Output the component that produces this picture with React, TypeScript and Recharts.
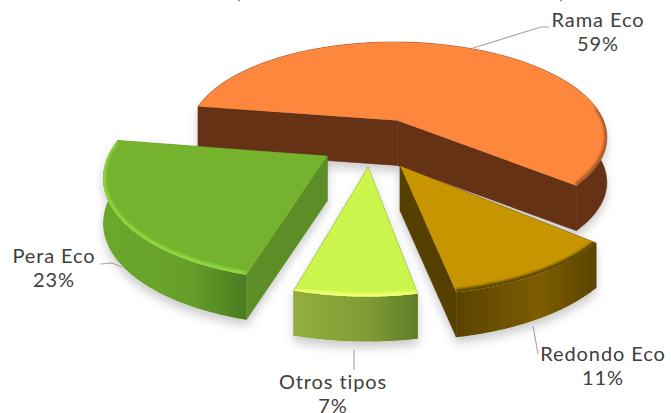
import { PieChart, Pie } from 'recharts'

const names = ['Rama Eco', 'Redondo Eco', 'Otros tipos', 'Pera Eco']
const values = [58.6, 10.9, 7.4, 23.1]

// look of each slice
const topColors = ['#FD873C', '#C79500', '#CBF54E', '#74B32F']
const edgeColors = ['#A85A2A', '#5F4700', '#F0FF70', '#8FD63F']
const cutColors = ['#663315', '#574000', '#6F8F2C', '#5B8D26']
const wallFrom = ['#663315', '#5A4300', '#93AE3C', '#6BA82C']
const wallMid = ['#663315', '#7D5D00', '#7F9C35', '#659F2B']
const wallTo = ['#663315', '#5A4300', '#5F7E28', '#4A7C1F']

// explosion of each slice on the pie plane, in radii
const offsetU = [0.118, 0.122, -0.022, -0.209]
const offsetV = [0.283, -0.18, -0.19, -0.0855]

// label anchors and leader lines
const labelX = [598, 603, 333, 54]
const labelY = [27, 361, 389, 263]
const leaders = [
  '473,48 541,27 549,27',
  '533,326 538,354',
  '354,350 354,370',
  '100,264 112,263 122,267',
]

const CX = 373
const CY = 147.4
const RADIUS = 216
const RAD = 100 / RADIUS // vertical squash
const PERSP = 0.17
const DEPTH = 45

const rows = names.map((name, i) => ({ name, value: values[i] }))

function project(u: number, v: number, R: number) {
  const s = 1 / (1 + PERSP * v)
  return [CX + R * u * s, CY - R * RAD * v * s]
}

function pts(list: number[][]) {
  return list.map((p) => `${p[0].toFixed(1)},${p[1].toFixed(1)}`).join(' L')
}

function Slice3D(props: any) {
  const i = names.indexOf(props.name)
  const R = props.outerRadius
  const ou = offsetU[i]
  const ov = offsetV[i]
  const a0 = 90 - props.startAngle
  const a1 = 90 - props.endAngle
  const arc: number[][] = []
  const rim: number[][] = []
  const steps = 80
  for (let k = 0; k <= steps; k++) {
    const t = ((a0 + ((a1 - a0) * k) / steps) * Math.PI) / 180
    const p = project(ou + Math.sin(t), ov + Math.cos(t), R)
    arc.push(p)
    // the bevel only catches the eye on the near half, and past the first half of the sweep for the big slice
    const nearSide = i === 0 ? Math.cos(t) < 0.15 && k > steps / 2 : Math.cos(t) < 0.15
    if (nearSide) rim.push([p[0], p[1] - 1])
  }
  const apex = project(ou, ov, R)
  const low = (p: number[]) => [p[0], p[1] + DEPTH]
  const top = `M${pts([apex, ...arc])} Z`
  const wall = `M${pts([...arc, ...arc.map(low).reverse()])} Z`
  const cutA = `M${pts([apex, arc[0], low(arc[0]), low(apex)])} Z`
  const cutB = `M${pts([apex, arc[steps], low(arc[steps]), low(apex)])} Z`
  return (
    <g>
      <defs>
        <linearGradient id={`wall${i}`} x1="0" y1="0" x2="1" y2="0">
          <stop offset="0" stopColor={wallFrom[i]} />
          <stop offset="0.6" stopColor={wallMid[i]} />
          <stop offset="1" stopColor={wallTo[i]} />
        </linearGradient>
        <filter id={`shadow${i}`} x="-20%" y="-20%" width="140%" height="150%">
          <feDropShadow dx="0" dy="6" stdDeviation="5" floodColor="#000" floodOpacity="0.2" />
        </filter>
        <filter id={`soft${i}`} x="-10%" y="-10%" width="120%" height="130%">
          <feGaussianBlur stdDeviation="1.2" />
        </filter>
        <clipPath id={`clip${i}`}>
          <path d={top} />
        </clipPath>
      </defs>
      <g filter={`url(#shadow${i})`}>
        <path d={cutA} fill={cutColors[i]} stroke={cutColors[i]} strokeWidth={0.6} />
        <path d={cutB} fill={cutColors[i]} stroke={cutColors[i]} strokeWidth={0.6} />
        <path d={wall} fill={`url(#wall${i})`} stroke={i === 0 ? cutColors[0] : 'none'} strokeWidth={0.6} />
        <path d={top} fill={topColors[i]} />
      </g>
      <g clipPath={`url(#clip${i})`}>
        <path d={`M${pts(rim)}`} fill="none" stroke={edgeColors[i]} strokeWidth={5} filter={`url(#soft${i})`} />
      </g>
    </g>
  )
}

function SliceLabel(props: any) {
  const i = names.indexOf(props.name)
  return (
    <g>
      <polyline points={leaders[i]} fill="none" stroke="#A6A6A6" strokeWidth={1.2} />
      <text x={labelX[i]} y={labelY[i]} textAnchor="middle" fontFamily="Lato" fontSize={20} letterSpacing={0.9} fill="#404040">
        <tspan x={labelX[i]}>{names[i]}</tspan>
        <tspan x={labelX[i]} dy={23.5}>{Math.round(props.percent * 100)}%</tspan>
      </text>
    </g>
  )
}

export default function App() {
  return (
    <div style={{ position: 'absolute', left: 0, top: 0, width: 671, height: 413, background: '#fff', overflow: 'hidden' }}>
      <PieChart width={671} height={413} margin={{ top: 0, right: 0, bottom: 0, left: 0 }}>
        <text x={238} y={-1} textAnchor="middle" fontFamily="Lato" fontSize={18} fill="#4472C4">(</text>
        <text x={562} y={-1} textAnchor="middle" fontFamily="Lato" fontSize={18} fill="#4472C4">)</text>
        <Pie
          data={rows}
          dataKey="value"
          nameKey="name"
          cx={CX}
          cy={CY}
          outerRadius={RADIUS}
          startAngle={-189}
          endAngle={-549}
          stroke="none"
          shape={Slice3D}
          label={SliceLabel}
          labelLine={false}
          isAnimationActive={false}
        />
      </PieChart>
    </div>
  )
}
